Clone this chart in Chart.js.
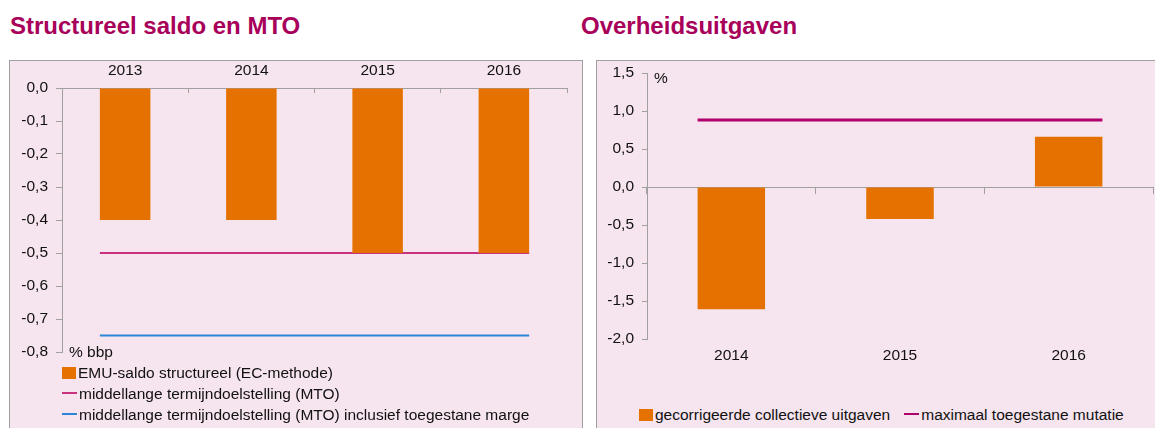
<!DOCTYPE html>
<html>
<head>
<meta charset="utf-8">
<script src="https://cdn.jsdelivr.net/npm/chart.js@4.4.1/dist/chart.umd.min.js"></script>
<style>
  body { margin: 0; background: #fff; font-family: "Liberation Sans", Arial, sans-serif; width: 1155px; height: 428px; overflow: hidden; position: relative; }
  .title { position: absolute; top: 12px; font-weight: bold; font-size: 24px; color: #a8005a; }
  .panel { position: absolute; top: 60px; height: 400px; background: #f6e4ef; border: 1px solid #a0a0a0; }
  .box { position: absolute; }
  .lbl { position: absolute; font-size: 15.5px; color: #111; }
  .legend { position: absolute; font-size: 15.5px; color: #111; }
  .legend div { height: 21px; line-height: 21px; white-space: nowrap; }
  .legend span { display: inline-block; white-space: nowrap; }
  .sq { display: inline-block; width: 14px; height: 12px; margin-right: 2px; vertical-align: -1px; }
  .ln { display: inline-block; width: 15px; height: 2px; margin-right: 2px; vertical-align: 5px; }
</style>
</head>
<body>
<div class="title" style="left:10px">Structureel saldo en MTO</div>
<div class="title" style="left:581px">Overheidsuitgaven</div>

<div class="panel" style="left:9px; width:572px"></div>
<div class="panel" style="left:596px; width:600px"></div>

<div class="box" style="left:10px; top:61px; width:571px; height:305px"><canvas id="links"></canvas></div>
<div class="box" style="left:597px; top:61px; width:558px; height:322px"><canvas id="rechts"></canvas></div>

<div class="lbl" style="left:69px; top:343px">% bbp</div>
<div class="lbl" style="left:654px; top:69px">%</div>

<div class="legend" id="legendLinks" style="left:62px; top:362px"></div>
<div class="legend" id="legendRechts" style="left:639px; top:404px"></div>

<script>
// linker grafiek: structureel saldo
const jarenLinks = ['2013', '2014', '2015', '2016'];
const emuSaldo = [-0.4, -0.4, -0.5, -0.5];
const mto = [-0.5, -0.5, -0.5, -0.5];
const mtoMarge = [-0.75, -0.75, -0.75, -0.75];
const ticksLinks = { min: -0.8, max: 0, step: 0.1 };

// rechter grafiek: overheidsuitgaven
const jarenRechts = ['2014', '2015', '2016'];
const uitgaven = [-1.61, -0.42, 0.66];
const maxMutatie = [0.88, 0.88, 0.88];
const ticksRechts = { min: -2, max: 1.5, step: 0.5 };

const oranje = '#e57200';
const roze = '#c8327e';
const paars = '#b0006a';
const blauw = '#2a86d6';
const grijs = '#a0a0a0';
const barPct = 0.4;
const font = { family: 'Liberation Sans', size: 15.5 };

const komma = v => v.toFixed(1).replace('.', ',').replace('-0,0', '0,0');

// lijn over de breedte van de staaf per categorie
function segmenten(waarden) {
  return waarden.flatMap((v, i) => [{ x: i - barPct / 2, y: v }, { x: i + barPct / 2, y: v }]);
}

function lijn(label, waarden, kleur, breedte) {
  return {
    type: 'line', label: label, data: segmenten(waarden), xAxisID: 'xl',
    borderColor: kleur, borderWidth: breedte, pointRadius: 0, fill: false, tension: 0
  };
}

function staaf(label, waarden) {
  return {
    label: label, data: waarden, backgroundColor: oranje,
    barPercentage: barPct, categoryPercentage: 1, grouped: false
  };
}

// vaste breedte van de y-as, layout-padding bepaalt de rest
function yAs(breedte) {
  return s => { s.width = breedte; s.paddingTop = 0; s.paddingBottom = 0; };
}

Chart.defaults.font.family = 'Liberation Sans';
Chart.defaults.color = '#111';

new Chart(document.getElementById('links'), {
  type: 'bar',
  data: {
    labels: jarenLinks,
    datasets: [
      staaf('EMU-saldo structureel (EC-methode)', emuSaldo),
      lijn('middellange termijndoelstelling (MTO)', mto, roze, 2),
      lijn('middellange termijndoelstelling (MTO) inclusief toegestane marge', mtoMarge, blauw, 2)
    ]
  },
  options: {
    responsive: true, maintainAspectRatio: false, animation: false,
    layout: { padding: { top: 0, right: 14, bottom: 14, left: 0 } },
    plugins: { legend: { display: false }, tooltip: { enabled: false } },
    scales: {
      x: {
        position: 'top', offset: true,
        grid: { drawOnChartArea: false, tickLength: -5, color: grijs },
        border: { color: grijs },
        ticks: { font: font, padding: 13 },
        afterFit: s => { s.height = 27; }
      },
      xl: { type: 'linear', min: -0.5, max: jarenLinks.length - 0.5, offset: false, display: false },
      y: {
        min: ticksLinks.min, max: ticksLinks.max,
        grid: { drawOnChartArea: false, tickLength: 6, color: grijs },
        border: { color: grijs },
        ticks: { stepSize: ticksLinks.step, font: font, padding: 8, callback: komma },
        afterFit: yAs(52)
      }
    }
  }
});

new Chart(document.getElementById('rechts'), {
  type: 'bar',
  data: {
    labels: jarenRechts,
    datasets: [
      staaf('gecorrigeerde collectieve uitgaven', uitgaven),
      lijn('maximaal toegestane mutatie', maxMutatie, paars, 3)
    ]
  },
  options: {
    responsive: true, maintainAspectRatio: false, animation: false,
    layout: { padding: { top: 12, right: 2, bottom: 14, left: 0 } },
    plugins: { legend: { display: false }, tooltip: { enabled: false } },
    scales: {
      x: {
        position: 'bottom', offset: true,
        grid: { display: false, drawTicks: false }, border: { display: false },
        ticks: { font: font, padding: 7 },
        afterFit: s => { s.height = 30; }
      },
      xz: {
        type: 'category', position: { y: 0 }, offset: true,
        grid: { drawOnChartArea: false, tickLength: 6, color: grijs },
        border: { color: grijs },
        ticks: { display: false }
      },
      xl: { type: 'linear', min: -0.5, max: jarenRechts.length - 0.5, offset: false, display: false },
      y: {
        min: ticksRechts.min, max: ticksRechts.max,
        grid: { drawOnChartArea: false, tickLength: 5, color: grijs },
        border: { color: grijs },
        ticks: { stepSize: ticksRechts.step, font: font, padding: 8, callback: komma },
        afterFit: yAs(50)
      }
    }
  }
});

// legenda's als tekst
function legenda(id, items, naastElkaar) {
  const el = document.getElementById(id);
  let html = naastElkaar ? '<div>' : '';
  items.forEach(it => {
    const teken = it.type === 'bar'
      ? '<i class="sq" style="background:' + it.kleur + '"></i>'
      : '<i class="ln" style="background:' + it.kleur + '"></i>';
    const stuk = '<span style="margin-right:' + (naastElkaar ? 14 : 0) + 'px">' + teken + it.label + '</span>';
    html += naastElkaar ? stuk : '<div>' + stuk + '</div>';
  });
  el.innerHTML = html + (naastElkaar ? '</div>' : '');
}

legenda('legendLinks', [
  { type: 'bar', kleur: oranje, label: 'EMU-saldo structureel (EC-methode)' },
  { type: 'line', kleur: roze, label: 'middellange termijndoelstelling (MTO)' },
  { type: 'line', kleur: blauw, label: 'middellange termijndoelstelling (MTO) inclusief toegestane marge' }
], false);

legenda('legendRechts', [
  { type: 'bar', kleur: oranje, label: 'gecorrigeerde collectieve uitgaven' },
  { type: 'line', kleur: paars, label: 'maximaal toegestane mutatie' }
], true);
</script>
</body>
</html>
